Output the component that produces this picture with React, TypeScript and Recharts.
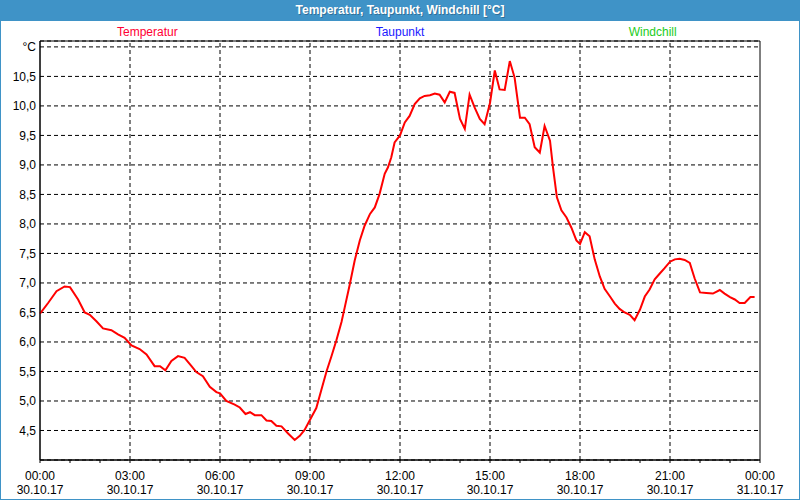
import { LineChart, Line, XAxis, YAxis, CartesianGrid, ReferenceLine, ReferenceArea } from 'recharts'

const chartTitle = 'Temperatur, Taupunkt, Windchill [°C]'
const seriesNames = ['Temperatur', 'Taupunkt', 'Windchill']
const seriesColors = ['#ff0033', '#1a1aff', '#22cc22']

// hours since 30.10.17 00:00
const hours = [
  0, 0.27, 0.55, 0.82, 1.0, 1.27, 1.49, 1.66, 1.88, 2.1, 2.38, 2.6, 2.82, 3.05, 3.32, 3.55, 3.82, 4.0,
  4.18, 4.38, 4.6, 4.82, 5.05, 5.21, 5.43, 5.66, 5.88, 6.0, 6.21, 6.49, 6.66, 6.85, 7.0, 7.16, 7.38,
  7.55, 7.71, 7.88, 8.05, 8.27, 8.49, 8.66, 8.82, 9.05, 9.21, 9.38, 9.55, 9.71, 9.88, 10.05, 10.16,
  10.32, 10.49, 10.66, 10.82, 11.0, 11.16, 11.32, 11.49, 11.6, 11.71, 11.82, 12.0, 12.16, 12.32, 12.49,
  12.66, 12.82, 13.0, 13.16, 13.32, 13.49, 13.66, 13.82, 14.0, 14.16, 14.32, 14.49, 14.66, 14.82, 15.0,
  15.16, 15.32, 15.49, 15.66, 15.82, 16.0, 16.16, 16.32, 16.49, 16.66, 16.82, 17.0, 17.1, 17.23, 17.38,
  17.55, 17.71, 17.88, 18.0, 18.16, 18.32, 18.49, 18.66, 18.82, 19.0, 19.16, 19.32, 19.49, 19.66, 19.82,
  20.0, 20.16, 20.32, 20.49, 20.66, 20.82, 21.0, 21.16, 21.32, 21.49, 21.66, 21.82, 22.0, 22.21, 22.43,
  22.66, 22.82, 23.0, 23.16, 23.32, 23.49, 23.68, 23.82,
]

const temperatur = [
  6.48, 6.66, 6.86, 6.94, 6.93, 6.72, 6.5, 6.46, 6.35, 6.23, 6.2, 6.13, 6.07, 5.94, 5.88, 5.79, 5.59, 5.59,
  5.52, 5.68, 5.76, 5.73, 5.59, 5.49, 5.42, 5.24, 5.15, 5.13, 5.0, 4.94, 4.89, 4.78, 4.81, 4.76, 4.76,
  4.67, 4.66, 4.58, 4.57, 4.45, 4.34, 4.41, 4.51, 4.73, 4.88, 5.19, 5.5, 5.75, 6.03, 6.34, 6.59,
  6.96, 7.38, 7.72, 7.97, 8.17, 8.28, 8.51, 8.85, 8.96, 9.13, 9.38, 9.5, 9.72, 9.83, 10.03,
  10.13, 10.17, 10.18, 10.21, 10.19, 10.06, 10.24, 10.22, 9.78, 9.61, 10.19, 9.97, 9.78, 9.69, 10.05,
  10.6, 10.28, 10.27, 10.76, 10.48, 9.8, 9.8, 9.69, 9.3, 9.21, 9.66, 9.41, 8.96, 8.45, 8.23,
  8.11, 7.94, 7.72, 7.66, 7.86, 7.79, 7.4, 7.11, 6.9, 6.77, 6.65, 6.56, 6.5, 6.46, 6.37,
  6.55, 6.77, 6.89, 7.06, 7.16, 7.25, 7.36, 7.4, 7.41, 7.39, 7.34, 7.08, 6.84, 6.83, 6.82,
  6.88, 6.82, 6.76, 6.72, 6.66, 6.66, 6.76, 6.76,
]

const hourTicks = [0, 1, 2, 3, 4, 5, 6, 7, 8, 9, 10, 11, 12, 13, 14, 15, 16, 17, 18, 19, 20, 21, 22, 23, 24]
const gridHours = [3, 6, 9, 12, 15, 18, 21]
const timeLabels = ['00:00', '03:00', '06:00', '09:00', '12:00', '15:00', '18:00', '21:00', '00:00']
const dateLabels = ['30.10.17', '30.10.17', '30.10.17', '30.10.17', '30.10.17', '30.10.17', '30.10.17', '30.10.17', '31.10.17']
const yTicks = [4.5, 5, 5.5, 6, 6.5, 7, 7.5, 8, 8.5, 9, 9.5, 10, 10.5, 11]

const data = hours.map((h, i) => ({ h, temp: temperatur[i] }))

const font = '"Liberation Sans", Arial, sans-serif'
const frameBlue = '#3f93c7'

function TimeTick({ x, y, payload }: any) {
  const h = payload.value
  if (h % 3 !== 0) return null
  const i = h / 3
  return (
    <text x={x} y={y} textAnchor="middle" fontSize={12} fontFamily={font} fill="#000">
      <tspan x={x} dy={15}>{timeLabels[i]}</tspan>
      <tspan x={x} dy={14}>{dateLabels[i]}</tspan>
    </text>
  )
}

const fmtY = (v: number) => (v === 11 ? '°C' : v.toFixed(1).replace('.', ','))

export default function App() {
  return (
    <div
      style={{
        position: 'absolute', left: 0, top: 0, width: 800, height: 500,
        background: '#fff', boxSizing: 'border-box', border: `1px solid ${frameBlue}`,
        fontFamily: font,
      }}
    >
      <div
        style={{
          position: 'absolute', left: -1, top: -1, width: 800, height: 21, background: frameBlue,
          color: '#fff', fontWeight: 'bold', fontSize: 12, textAlign: 'center', lineHeight: '21px',
          textShadow: '1px 1px 0 rgba(0,0,0,0.25)',
        }}
      >
        {chartTitle}
      </div>

      {/* series names above the plot */}
      <div style={{ position: 'absolute', left: 20, top: 24, width: 758, display: 'flex', fontSize: 12 }}>
        {seriesNames.map((n, i) => (
          <div key={n} style={{ flex: 1, textAlign: 'center', color: seriesColors[i] }}>{n}</div>
        ))}
      </div>

      <div style={{ position: 'absolute', left: -1, top: 19 }}>
        <LineChart width={800} height={480} data={data} margin={{ top: 21, right: 40, bottom: 0, left: 0 }}>
          <CartesianGrid vertical={false} stroke="#000" strokeDasharray="4 3" />
          {gridHours.map(h => (
            <ReferenceLine key={h} x={h} stroke="#000" strokeDasharray="4 3" />
          ))}
          <ReferenceArea x1={0} x2={24} y1={4} y2={11.1} fill="none" stroke="#000" strokeOpacity={1} fillOpacity={0} />
          <XAxis
            dataKey="h"
            type="number"
            domain={[0, 24]}
            ticks={hourTicks}
            interval={0}
            height={40}
            tickSize={3}
            tickMargin={2}
            stroke="#000"
            tick={<TimeTick />}
          />
          <YAxis
            type="number"
            domain={[4, 11.1]}
            ticks={yTicks}
            interval={0}
            width={40}
            tickLine={false}
            tickSize={0}
            tickMargin={4}
            stroke="#000"
            tickFormatter={fmtY}
            tick={{ fill: '#000', fontSize: 12, fontFamily: font }}
            allowDataOverflow
          />
          <Line
            dataKey="temp"
            name={seriesNames[0]}
            type="linear"
            stroke="#ff0000"
            strokeWidth={2}
            dot={false}
            isAnimationActive={false}
          />
        </LineChart>
      </div>
    </div>
  )
}
